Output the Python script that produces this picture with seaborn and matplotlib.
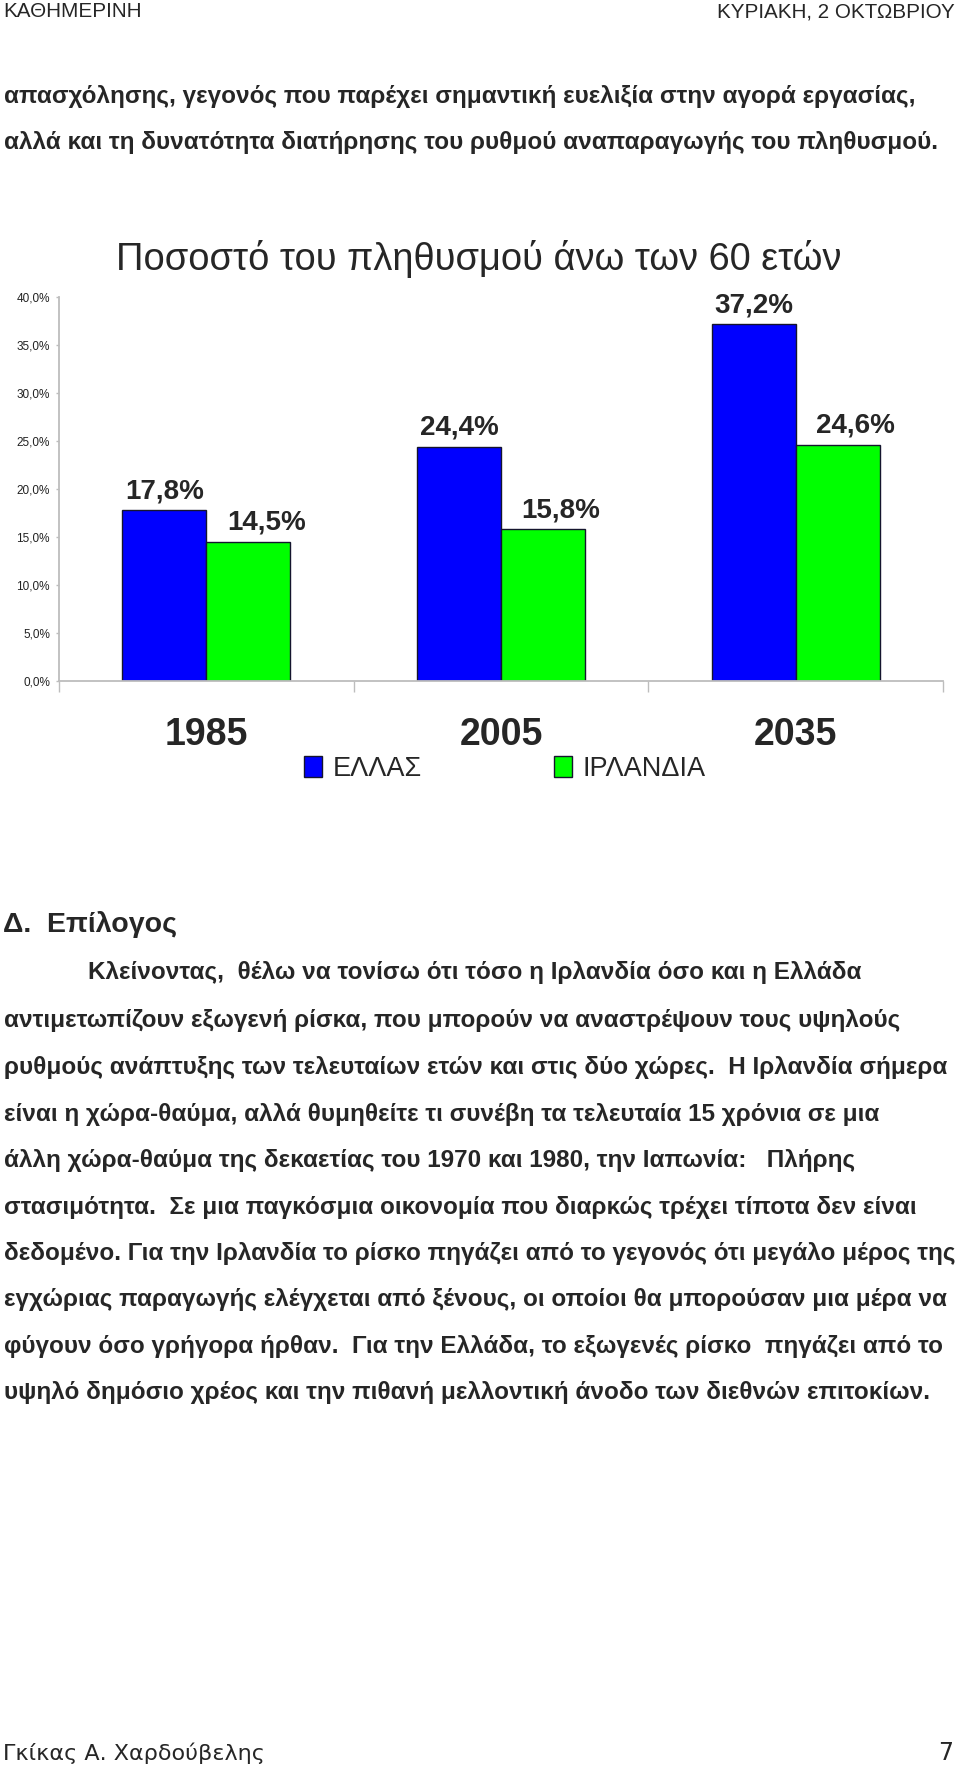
import matplotlib
matplotlib.use('Agg')
import matplotlib.pyplot as plt
import seaborn as sns
import pandas as pd

# ---------------- data ----------------
years = ['1985', '2005', '2035']
countries = ['ΕΛΛΑΣ', 'ΙΡΛΑΝΔΙΑ']
greece = [17.8, 24.4, 37.2]
ireland = [14.5, 15.8, 24.6]
yticks = [0, 5, 10, 15, 20, 25, 30, 35, 40]
colors = {'ΕΛΛΑΣ': '#0000FF', 'ΙΡΛΑΝΔΙΑ': '#00FF00'}

chart_title = 'Ποσοστό του πληθυσμού άνω των 60 ετών'
header_left = 'ΚΑΘΗΜΕΡΙΝΗ'
header_right = 'ΚΥΡΙΑΚΗ, 2 ΟΚΤΩΒΡΙΟΥ'
intro_lines = [
    'απασχόλησης, γεγονός που παρέχει σημαντική ευελιξία στην αγορά εργασίας,',
    'αλλά και τη δυνατότητα διατήρησης του ρυθμού αναπαραγωγής του πληθυσμού.',
]
section_title = 'Δ.  Επίλογος'
body_lines = [
    'Κλείνοντας,  θέλω να τονίσω ότι τόσο η Ιρλανδία όσο και η Ελλάδα',
    'αντιμετωπίζουν εξωγενή ρίσκα, που μπορούν να αναστρέψουν τους υψηλούς',
    'ρυθμούς ανάπτυξης των τελευταίων ετών και στις δύο χώρες.  Η Ιρλανδία σήμερα',
    'είναι η χώρα-θαύμα, αλλά θυμηθείτε τι συνέβη τα τελευταία 15 χρόνια σε μια',
    'άλλη χώρα-θαύμα της δεκαετίας του 1970 και 1980, την Ιαπωνία:   Πλήρης',
    'στασιμότητα.  Σε μια παγκόσμια οικονομία που διαρκώς τρέχει τίποτα δεν είναι',
    'δεδομένο. Για την Ιρλανδία το ρίσκο πηγάζει από το γεγονός ότι μεγάλο μέρος της',
    'εγχώριας παραγωγής ελέγχεται από ξένους, οι οποίοι θα μπορούσαν μια μέρα να',
    'φύγουν όσο γρήγορα ήρθαν.  Για την Ελλάδα, το εξωγενές ρίσκο  πηγάζει από το',
    'υψηλό δημόσιο χρέος και την πιθανή μελλοντική άνοδο των διεθνών επιτοκίων.',
]
footer_left = 'Γκίκας Α. Χαρδούβελης'
footer_right = '7'

df = pd.DataFrame({
    'year': years * 2,
    'country': [countries[0]] * len(years) + [countries[1]] * len(years),
    'value': greece + ireland,
})

# ---------------- style ----------------
sns.set_style('white')
plt.rcParams['font.family'] = ['Liberation Sans', 'DejaVu Sans']

W, H = 960, 1766
fig = plt.figure(figsize=(W / 100, H / 100), dpi=100)


def fx(px):
    return px / W


def fy(py):
    return 1 - py / H


ax = fig.add_axes([fx(59), fy(680.7), fx(884), 383.4 / H])
sns.barplot(data=df, x='year', y='value', hue='country', hue_order=countries,
            palette=colors, width=0.57, saturation=1, errorbar=None,
            edgecolor='#15152e', linewidth=1.0, ax=ax)

ax.set_xlim(-0.5, 2.5)
ax.set_ylim(0, 40)
ax.set_xlabel('')
ax.set_ylabel('')
for s in ['top', 'right']:
    ax.spines[s].set_visible(False)
for s in ['left', 'bottom']:
    ax.spines[s].set_color('#BDBDBD')
    ax.spines[s].set_linewidth(1.3)

ax.set_yticks(yticks)
ax.set_yticklabels([f'{v:.1f}'.replace('.', ',') + '%' for v in yticks])
ax.tick_params(axis='y', left=True, length=2.5, width=1, color='#BDBDBD',
               labelsize=8.5, labelcolor='#222222', pad=4, direction='out')

ax.set_xticks(range(len(years)))
ax.set_xticklabels(years, fontsize=27, fontweight='bold')
ax.tick_params(axis='x', which='major', length=0, pad=26)
ax.set_xticks([-0.5, 0.5, 1.5, 2.5], minor=True)
ax.tick_params(axis='x', which='minor', bottom=True, length=8, width=1,
               color='#BDBDBD', direction='out')

values = [greece, ireland]
dxs = [0, 13]
for ci, container in enumerate(ax.containers):
    for bar, v in zip(container, values[ci]):
        ax.annotate(f'{v:.1f}'.replace('.', ',') + '%',
                    xy=(bar.get_x() + bar.get_width() / 2, bar.get_height()),
                    xytext=(dxs[ci], 8.6), textcoords='offset points',
                    ha='center', va='baseline', fontsize=20, fontweight='bold')

sns.move_legend(ax, 'center', bbox_to_anchor=(fx(505), fy(769)),
                bbox_transform=fig.transFigure, ncol=2, frameon=False,
                title=None, fontsize=19.5, handlelength=0.65, handleheight=0.8,
                handletextpad=0.4, columnspacing=4.9)

fig.text(fx(479), fy(259), chart_title, ha='center', va='center', fontsize=27.4)

# ---------------- page text ----------------
fig.text(fx(3), fy(17), header_left, ha='left', va='baseline', fontsize=14.9)
fig.text(fx(955), fy(17), header_right, ha='right', va='baseline', fontsize=14.9)

intro_y = [95, 141]
for s, y in zip(intro_lines, intro_y):
    fig.text(fx(4), fy(y + 8), s, ha='left', va='baseline', fontsize=17.5,
             fontweight='bold')

fig.text(fx(3), fy(932), section_title, ha='left', va='baseline', fontsize=20.5,
         fontweight='bold')

body_y = [971, 1019, 1066, 1113, 1159, 1206, 1252, 1298, 1345, 1391]
for i, (s, y) in enumerate(zip(body_lines, body_y)):
    fig.text(fx(88 if i == 0 else 4), fy(y + 8), s, ha='left', va='baseline',
             fontsize=17.5, fontweight='bold')

fig.text(fx(3), fy(1760), footer_left, ha='left', va='baseline', fontsize=16,
         family=['DejaVu Sans'])
fig.text(fx(953), fy(1760), footer_right, ha='right', va='baseline', fontsize=17,
         family=['DejaVu Sans'])

fig.savefig('out.png', dpi=100)
